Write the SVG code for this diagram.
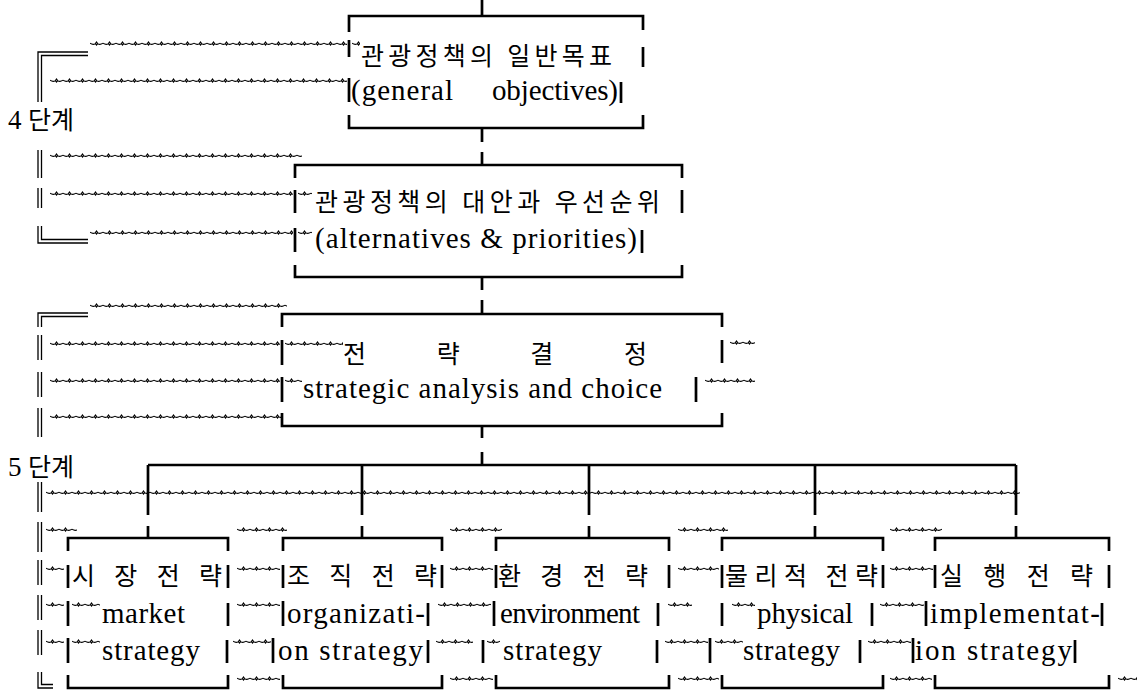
<svg xmlns="http://www.w3.org/2000/svg" width="1137" height="690" viewBox="0 0 1137 690">
<defs>
<pattern id="wave" width="13" height="8" patternUnits="userSpaceOnUse">
<path d="M0,4.2 Q3,6.4 5.4,4.6 L6.5,3 L7.6,4.6 Q10,6.4 13,4.2 M5.4,4.6 L6.5,6 L7.6,4.6" fill="none" stroke="#000" stroke-width="1.1"/>
</pattern>
</defs>
<style>
.b{stroke:#000;stroke-width:2.7;fill:none}
.d{stroke:#000;stroke-width:1.3;fill:none}
.w{fill:url(#wave)}
.ko{font-size:25px;fill:#000}
</style>
<rect width="1137" height="690" fill="#fff"/>

<g id="margin">
<path class="d" d="M38,102V52H88 M41.5,102V55.5H88"/>
<path class="d" d="M38,150V178 M41.5,150V178 M38,188V208 M41.5,188V208 M38,226V243H88 M41.5,226V239.5H88"/>
<path class="d" d="M38,327V313H88 M41.5,327V316.5H88 M38,335V360 M41.5,335V360 M38,372V397 M41.5,372V397 M38,408V437 M41.5,408V437"/>
<path class="d" d="M38,482V512 M41.5,482V512 M38,522V552 M41.5,522V552 M38,560V585 M41.5,560V585 M38,595V620 M41.5,595V620 M38,630V655 M41.5,630V655 M38,672V688H53 M41.5,672V684.5H53"/>
<text font-family="Liberation Serif" font-size="27" x="8" y="129">4</text>
<text class="ko" font-family="Noto Sans CJK KR" x="28" y="129">단계</text>
<text font-family="Liberation Serif" font-size="27" x="8" y="476">5</text>
<text class="ko" font-family="Noto Sans CJK KR" x="28" y="476">단계</text>
<g id="waves">
<rect class="w" width="257" height="8" transform="translate(90,39)"/>
<rect class="w" width="8" height="8" transform="translate(352,39)"/>
<rect class="w" width="297" height="8" transform="translate(50,76)"/>
<rect class="w" width="252" height="8" transform="translate(50,151)"/>
<rect class="w" width="243" height="8" transform="translate(50,189)"/>
<rect class="w" width="14" height="8" transform="translate(298,189)"/>
<rect class="w" width="203" height="8" transform="translate(90,228)"/>
<rect class="w" width="14" height="8" transform="translate(298,228)"/>
<rect class="w" width="197" height="8" transform="translate(90,301)"/>
<rect class="w" width="230" height="8" transform="translate(50,339)"/>
<rect class="w" width="58" height="8" transform="translate(285,339)"/>
<rect class="w" width="25" height="8" transform="translate(730,338)"/>
<rect class="w" width="230" height="8" transform="translate(50,376)"/>
<rect class="w" width="17" height="8" transform="translate(285,376)"/>
<rect class="w" width="50" height="8" transform="translate(705,376)"/>
<rect class="w" width="232" height="8" transform="translate(50,412)"/>
<rect class="w" width="974" height="8" transform="translate(46,488)"/>
<rect class="w" width="31" height="8" transform="translate(46,525)"/>
<rect class="w" width="50" height="8" transform="translate(237,525)"/>
<rect class="w" width="52" height="8" transform="translate(450,525)"/>
<rect class="w" width="50" height="8" transform="translate(678,525)"/>
<rect class="w" width="52" height="8" transform="translate(890,525)"/>
<rect class="w" width="18" height="8" transform="translate(46,564)"/>
<rect class="w" width="43" height="8" transform="translate(237,564)"/>
<rect class="w" width="43" height="8" transform="translate(450,564)"/>
<rect class="w" width="41" height="8" transform="translate(678,564)"/>
<rect class="w" width="43" height="8" transform="translate(890,564)"/>
<rect class="w" width="18" height="8" transform="translate(46,600)"/>
<rect class="w" width="28" height="8" transform="translate(72,600)"/>
<rect class="w" width="43" height="8" transform="translate(237,600)"/>
<rect class="w" width="53" height="8" transform="translate(438,600)"/>
<rect class="w" width="24" height="8" transform="translate(668,600)"/>
<rect class="w" width="23" height="8" transform="translate(732,600)"/>
<rect class="w" width="44" height="8" transform="translate(880,600)"/>
<rect class="w" width="18" height="8" transform="translate(46,637)"/>
<rect class="w" width="28" height="8" transform="translate(72,637)"/>
<rect class="w" width="38" height="8" transform="translate(233,637)"/>
<rect class="w" width="37" height="8" transform="translate(436,637)"/>
<rect class="w" width="13" height="8" transform="translate(487,637)"/>
<rect class="w" width="43" height="8" transform="translate(665,637)"/>
<rect class="w" width="28" height="8" transform="translate(715,637)"/>
<rect class="w" width="43" height="8" transform="translate(868,637)"/>
<rect class="w" width="43" height="8" transform="translate(237,674)"/>
<rect class="w" width="43" height="8" transform="translate(450,674)"/>
<rect class="w" width="41" height="8" transform="translate(678,674)"/>
<rect class="w" width="42" height="8" transform="translate(890,674)"/>
<rect class="w" width="19" height="8" transform="translate(1118,674)"/>
</g>
</g>

<g id="connectors">
<path class="b" d="M482,0V16 M482,128V142 M482,152V165 M482,277V290 M482,300V314 M482,426V438 M482,452V465 M148,465H1016 M148,465V515 M362,465V515 M589,465V515 M815,465V515 M1016,465V515 M148,526V538 M362,526V538 M589,526V538 M815,526V538 M1016,526V538"/>
</g>

<g id="n-goals">
<path class="b" d="M349,32V16H643V30 M349,40V57 M349,78V102 M349,115V128H643V115 M643,47V67 M621,82V103"/>
<text class="ko" font-family="Noto Sans CJK KR" x="361" y="65" textLength="251">관광정책의 일반목표</text>
<text font-family="Liberation Serif" font-size="29" x="351" y="100" textLength="102">(general</text>
<text font-family="Liberation Serif" font-size="29" x="492" y="100" textLength="126">objectives)</text>
</g>

<g id="n-alternatives">
<path class="b" d="M295,178V165H682V178 M295,190V213 M295,228V252 M295,265V277H682V265 M682,190V213 M642,230V253"/>
<text class="ko" font-family="Noto Sans CJK KR" x="315" y="211" textLength="345">관광정책의 대안과 우선순위</text>
<text font-family="Liberation Serif" font-size="29" x="315" y="248" textLength="322">(alternatives &amp; priorities)</text>
</g>

<g id="n-strategy">
<path class="b" d="M282,327V314H722V327 M282,340V365 M282,377V402 M282,413V426H722V413 M722,340V363 M696,377V402"/>
<text class="ko" font-family="Noto Sans CJK KR" x="343" y="363" textLength="304">전 략 결 정</text>
<text font-family="Liberation Serif" font-size="29" x="303" y="398" textLength="359">strategic analysis and choice</text>
</g>

<g id="n-market">
<path class="b" d="M68,551V538H228V551 M68,565V588 M68,601V626 M68,638V663 M68,675V688H228V675 M228,565V588 M228,603V626 M227,640V663"/>
<text class="ko" font-family="Noto Sans CJK KR" x="72" y="585" textLength="150">시 장 전 략</text>
<text font-family="Liberation Serif" font-size="29" x="102" y="623" textLength="83">market</text>
<text font-family="Liberation Serif" font-size="29" x="102" y="660" textLength="98">strategy</text>
</g>

<g id="n-organization">
<path class="b" d="M283,551V538H442V551 M283,565V588 M283,601V626 M273,638V663 M283,675V688H442V675 M442,565V588 M428,603V626 M428,640V663"/>
<text class="ko" font-family="Noto Sans CJK KR" x="287" y="585" textLength="150">조 직 전 략</text>
<text font-family="Liberation Serif" font-size="29" x="287" y="623" textLength="138">organizati-</text>
<text font-family="Liberation Serif" font-size="29" x="278" y="660" textLength="145">on strategy</text>
</g>

<g id="n-environment">
<path class="b" d="M496,551V538H669V551 M496,565V588 M494,601V626 M483,640V663 M496,675V688H669V675 M669,565V588 M658,603V626 M657,640V663"/>
<text class="ko" font-family="Noto Sans CJK KR" x="498" y="585" textLength="150">환 경 전 략</text>
<text font-family="Liberation Serif" font-size="29" x="500" y="623" textLength="140">environment</text>
<text font-family="Liberation Serif" font-size="29" x="503" y="660" textLength="99">strategy</text>
</g>

<g id="n-physical">
<path class="b" d="M722,551V538H883V551 M722,565V588 M722,603V626 M710,638V663 M722,675V688H883V675 M883,565V588 M872,603V626 M860,640V663"/>
<text class="ko" font-family="Noto Sans CJK KR" x="725" y="585" textLength="153">물리적 전략</text>
<text font-family="Liberation Serif" font-size="29" x="757" y="623" textLength="96">physical</text>
<text font-family="Liberation Serif" font-size="29" x="743" y="660" textLength="97">strategy</text>
</g>

<g id="n-implementation">
<path class="b" d="M935,551V538H1109V551 M935,565V588 M926,601V626 M913,638V663 M935,675V688H1109V675 M1109,565V588 M1102,603V626 M1075,640V663"/>
<text class="ko" font-family="Noto Sans CJK KR" x="940" y="585" textLength="153">실 행 전 략</text>
<text font-family="Liberation Serif" font-size="29" x="930" y="623" textLength="170">implementat-</text>
<text font-family="Liberation Serif" font-size="29" x="915" y="660" textLength="157">ion strategy</text>
</g>
</svg>
